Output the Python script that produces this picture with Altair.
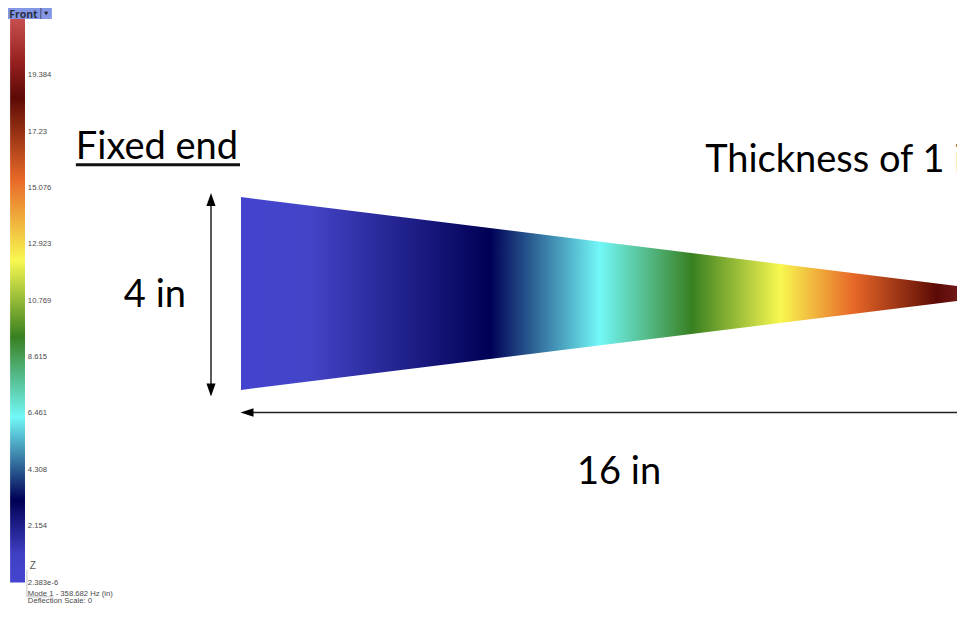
import altair as alt
import pandas as pd

# Beam outline, inches (root at x = 0, clipped near x = 14.92)
beam_x = [0, 14.917]
beam_top = [2.01, 0.156]
beam_bottom = [-2.01, -0.156]

# Colour stops along the beam (fraction of the visible length)
beam_offsets = [0, 0.096, 0.348, 0.501, 0.63, 0.753, 0.855, 0.972, 1]
beam_colors = ["#4343cf", "#4444c8", "#000055", "#72f8f8", "#388020", "#f8f850", "#e86828", "#5c0a05", "#701818"]

# Legend bar
bar_values = [0, 21.57]
bar_offsets = [0, 0.05, 0.146, 0.293, 0.435, 0.57, 0.714, 0.858, 0.92, 1]
bar_colors = ["#4444d0", "#4040c4", "#000055", "#72f8f8", "#388020", "#f8f850", "#e86828", "#5c0a05", "#951f1f", "#c85050"]
bar_ticks = [21.6, 19.384, 17.23, 15.076, 12.923, 10.769, 8.615, 6.461, 4.308, 2.154, 0]
bar_labels = ["21.538", "19.384", "17.23", "15.076", "12.923", "10.769", "8.615", "6.461", "4.308", "2.154", "2.383e-6"]

# Annotations (inches)
ann_text = ["Fixed end", "Thickness of 1 in", "4 in", "16 in"]
ann_x = [-3.44, 9.67, -2.44, 7.0]
ann_y = [2.8, 2.53, -0.28, -3.97]

small_text = ["Mode 1 - 358.682  Hz (in)", "Deflection Scale: 0"]
small_x = [-4.44, -4.44]
small_y = [-0.44, -0.707]

X = alt.Scale(domain=[-4.854, 14.917], nice=False, zero=False)
Y = alt.Scale(domain=[-6.74, 5.948], nice=False, zero=False)
V = alt.Scale(domain=[-1.318, 21.95], nice=False, zero=False)

x_q = lambda f, s=X: alt.X(f, type="quantitative", scale=s, axis=None)
y_q = lambda f, s=Y: alt.Y(f, type="quantitative", scale=s, axis=None)


def grad(offsets, colors, **kw):
    return alt.Gradient(
        gradient="linear",
        stops=[alt.GradientStop(color=c, offset=o) for o, c in zip(offsets, colors)],
        **kw,
    )


beam = (
    alt.Chart(pd.DataFrame({"x": beam_x, "t": beam_top, "b": beam_bottom}))
    .mark_area(color=grad(beam_offsets, beam_colors, x1=0, x2=1, y1=0, y2=0), clip=True)
    .encode(x=x_q("x"), y=y_q("t"), y2="b")
)

bar = (
    alt.Chart(pd.DataFrame({"x": [-4.81], "x2": [-4.5], "v": [bar_values[0]], "v2": [bar_values[1]]}))
    .mark_rect(color=grad(bar_offsets, bar_colors, x1=0, x2=0, y1=1, y2=0), clip=True)
    .encode(x=x_q("x"), x2="x2", y=y_q("v", V), y2="v2")
)

bar_text = (
    alt.Chart(pd.DataFrame({"v": bar_ticks, "t": bar_labels, "x": [-4.44] * len(bar_ticks)}))
    .mark_text(align="left", baseline="middle", font="Liberation Sans", fontSize=7.7, color="#4a4a4a", clip=True)
    .encode(x=x_q("x"), y=y_q("v", V), text="t:N")
)

small = (
    alt.Chart(pd.DataFrame({"x": small_x, "y": small_y, "t": small_text}))
    .mark_text(align="left", baseline="middle", font="Liberation Sans", fontSize=7.7, color="#4a4a4a", clip=True)
    .encode(x=x_q("x"), y=y_q("y", V), text="t:N")
)

z_label = (
    alt.Chart(pd.DataFrame({"x": [-4.4], "y": [0.63], "t": ["Z"]}))
    .mark_text(align="left", baseline="middle", font="Liberation Sans", fontSize=10, color="#555555", clip=True)
    .encode(x=x_q("x"), y=y_q("y", V), text="t:N")
)

triad_v = (
    alt.Chart(pd.DataFrame({"x": [-4.46], "a": [0.48], "b": [-0.55]}))
    .mark_rule(color="#c4c4c4", strokeWidth=1)
    .encode(x=x_q("x"), y=y_q("a", V), y2="b")
)
triad_h = (
    alt.Chart(pd.DataFrame({"a": [-4.46], "b": [-3.9], "y": [-0.55]}))
    .mark_rule(color="#c4c4c4", strokeWidth=1)
    .encode(x=x_q("a"), x2="b", y=y_q("y", V))
)

ann = (
    alt.Chart(pd.DataFrame({"x": ann_x, "y": ann_y, "t": ann_text}))
    .mark_text(align="left", baseline="alphabetic", font="Lato", fontSize=38, color="#000000", clip=True)
    .encode(x=x_q("x"), y=y_q("y"), text="t:N")
)

underline = (
    alt.Chart(pd.DataFrame({"a": [-3.44], "b": [-0.02], "y": [2.68]}))
    .mark_rule(color="#111111", strokeWidth=3)
    .encode(x=x_q("a"), x2="b", y=y_q("y"))
)

arrow_v = (
    alt.Chart(pd.DataFrame({"x": [-0.625], "a": [1.9], "b": [-1.95]}))
    .mark_rule(color="#222222", strokeWidth=1.5)
    .encode(x=x_q("x"), y=y_q("a"), y2="b")
)
arrow_h = (
    alt.Chart(pd.DataFrame({"a": [0.2], "b": [14.917], "y": [-2.48]}))
    .mark_rule(color="#222222", strokeWidth=1.5, clip=True)
    .encode(x=x_q("a"), x2="b", y=y_q("y"))
)


def head(x, y, shape):
    return (
        alt.Chart(pd.DataFrame({"x": [x], "y": [y]}))
        .mark_point(shape=shape, filled=True, color="#000000", size=169, opacity=1)
        .encode(x=x_q("x"), y=y_q("y"))
    )


heads = [
    head(-0.625, 1.958, "M0,-1L-0.7,1L0.7,1Z"),
    head(-0.625, -2.01, "M0,1L-0.7,-1L0.7,-1Z"),
    head(0.125, -2.48, "M-1,0L1,-0.65L1,0.65Z"),
]

tab = (
    alt.Chart(pd.DataFrame({"a": [-4.854], "b": [-3.94], "v": [21.95], "v2": [21.53]}))
    .mark_rect(color="#8497e4")
    .encode(x=x_q("a"), x2="b", y=y_q("v", V), y2="v2")
)
tab_sep = (
    alt.Chart(pd.DataFrame({"x": [-4.17], "a": [21.95], "b": [21.53]}))
    .mark_rule(color="#4a5070", strokeWidth=1)
    .encode(x=x_q("x"), y=y_q("a", V), y2="b")
)
tab_text = (
    alt.Chart(pd.DataFrame({"x": [-4.83], "v": [21.68], "t": ["Front"]}))
    .mark_text(align="left", baseline="middle", font="Open Sans", fontSize=10.5, fontWeight="bold", color="#2b2f45", clip=True)
    .encode(x=x_q("x"), y=y_q("v", V), text="t:N")
)
tab_arrow = (
    alt.Chart(pd.DataFrame({"x": [-4.06], "v": [21.74]}))
    .mark_point(shape="triangle-down", filled=True, color="#222222", size=18, opacity=1, clip=True)
    .encode(x=x_q("x"), y=y_q("v", V))
)

chart = (
    alt.layer(
        beam, bar, bar_text, small, z_label, triad_v, triad_h, ann, underline,
        arrow_v, arrow_h, *heads, tab, tab_sep, tab_text, tab_arrow,
    )
    .resolve_scale(y="independent", x="shared")
    .properties(
        width=949,
        height=609,
        padding=0,
        background="#ffffff",
        autosize=alt.AutoSizeParams(type="none", contains="padding"),
    )
    .configure_view(strokeWidth=0)
)

chart.save("out.html", embed_options={"renderer": "svg", "actions": False})
